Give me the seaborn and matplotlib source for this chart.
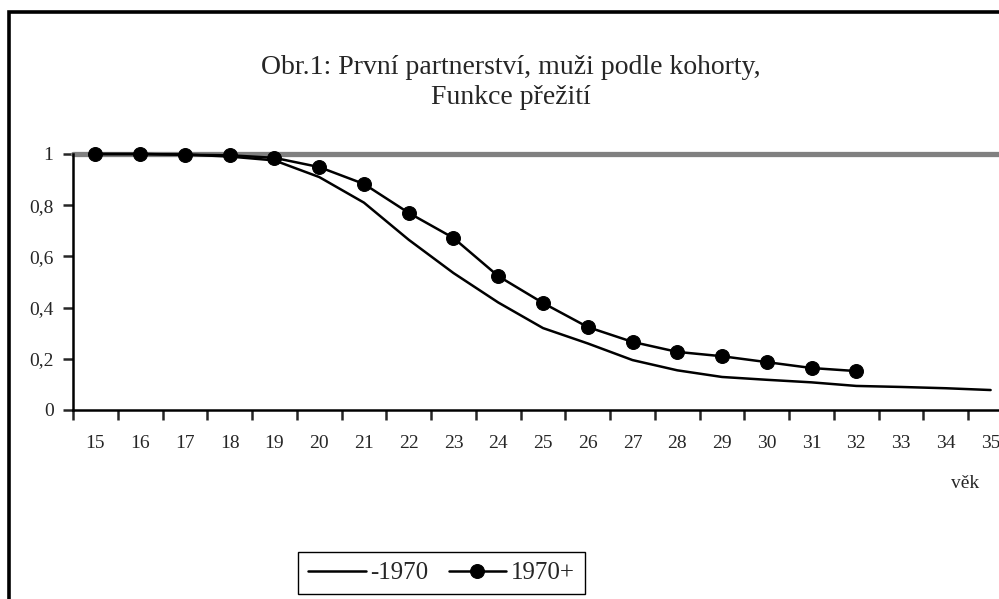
import numpy as np
import pandas as pd
import matplotlib
matplotlib.use("Agg")
import matplotlib.pyplot as plt
import matplotlib.patches as patches
import seaborn as sns

# values
ages_old = list(range(15, 36))
surv_old = [1.0, 1.0, 0.998, 0.99, 0.975, 0.91, 0.81, 0.665, 0.535, 0.42,
            0.32, 0.26, 0.195, 0.155, 0.129, 0.118, 0.108, 0.094, 0.09, 0.085, 0.078]
ages_new = list(range(15, 33))
surv_new = [1.0, 1.0, 0.997, 0.995, 0.985, 0.949, 0.883, 0.77, 0.672, 0.523,
            0.418, 0.324, 0.266, 0.227, 0.21, 0.187, 0.164, 0.152]
labels = ["-1970", "1970+"]
yticks = [0, 0.2, 0.4, 0.6, 0.8, 1]
ytick_labels = ["0", "0,2", "0,4", "0,6", "0,8", "1"]

df_old = pd.DataFrame({"vek": ages_old, "p": surv_old})
df_new = pd.DataFrame({"vek": ages_new, "p": surv_new})

sns.set_style("ticks")
plt.rcParams["font.family"] = ["Liberation Serif", "DejaVu Serif"]

W, H = 999, 599
fig = plt.figure(figsize=(W / 100, H / 100), dpi=100)
ax = fig.add_axes([73 / W, (H - 410) / H, 940 / W, 256 / H])

ax.axhline(1, color="#808080", lw=3.8, zorder=1, clip_on=False)
sns.lineplot(data=df_old, x="vek", y="p", ax=ax, color="black", lw=1.8,
             label=labels[0], legend=False, zorder=3, clip_on=False)
sns.lineplot(data=df_new, x="vek", y="p", ax=ax, color="black", lw=1.8,
             marker="o", markersize=10, markeredgecolor="black",
             label=labels[1], legend=False, zorder=4, clip_on=False)

ax.set_xlim(14.5, 35.5)
ax.set_ylim(0, 1)
ax.set_xlabel("")
ax.set_ylabel("")

# category-style x axis: ticks at boundaries, labels in the middle
ax.set_xticks(np.arange(14.5, 36, 1))
ax.set_xticklabels([])
ax.set_xticks(ages_old, minor=True)
ax.set_xticklabels([str(a) for a in ages_old], minor=True)
ax.tick_params(axis="x", which="major", length=7, width=1.8, direction="out")
ax.tick_params(axis="x", which="minor", length=0, pad=18, labelsize=14)
ax.set_yticks(yticks)
ax.set_yticklabels(ytick_labels)
ax.tick_params(axis="y", length=7, width=1.8, direction="out", pad=7, labelsize=14)

for s in ["top", "right"]:
    ax.spines[s].set_visible(False)
for s in ["left", "bottom"]:
    ax.spines[s].set_linewidth(1.8)
    ax.spines[s].set_color("black")

fig.text(511 / W, 1 - 68 / H, "Obr.1: První partnerství, muži podle kohorty,",
         ha="center", va="center", fontsize=20)
fig.text(511 / W, 1 - 97 / H, "Funkce přežití", ha="center", va="center", fontsize=20)
fig.text(965 / W, 1 - 484 / H, "věk", ha="center", va="center", fontsize=14)

handles, _ = ax.get_legend_handles_labels()
leg = fig.legend(handles, labels, loc="center left",
                 bbox_to_anchor=(298 / W, 1 - 573 / H), ncol=2, fontsize=18,
                 frameon=True, fancybox=False, framealpha=1, edgecolor="black",
                 handlelength=2.3, handletextpad=0.2, columnspacing=0.8,
                 borderpad=0.4, borderaxespad=0)
leg.get_frame().set_linewidth(1.0)

# outer chart border (right and bottom edges fall outside the image)
fig.patches.append(patches.Rectangle((9 / W, -0.2), 1.3, 1 - 12 / H + 0.2,
                                     transform=fig.transFigure, fill=False,
                                     edgecolor="black", lw=2.6))

fig.savefig("out.png", dpi=100)
